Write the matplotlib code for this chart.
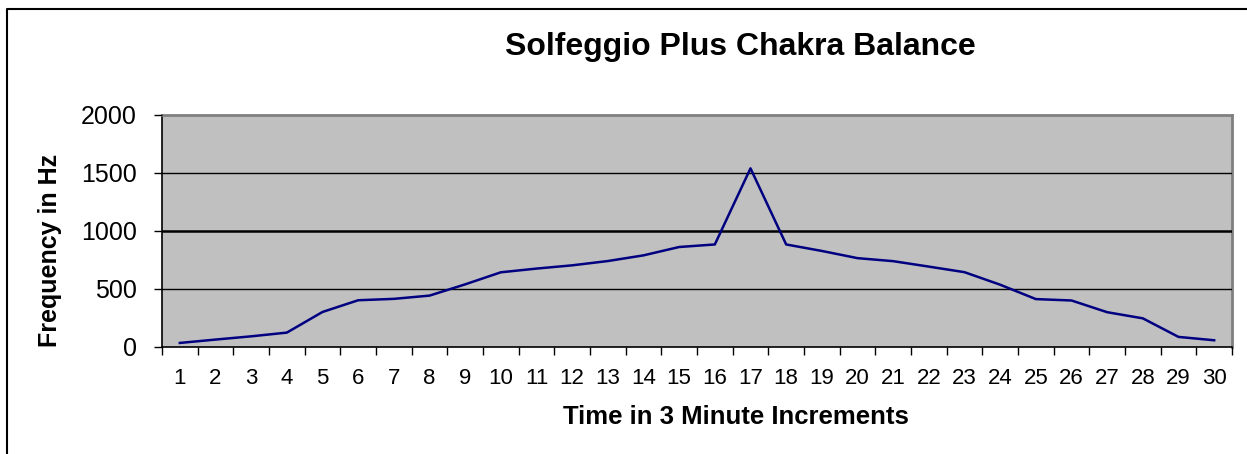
import matplotlib
matplotlib.use("Agg")
import matplotlib.pyplot as plt
from matplotlib.lines import Line2D

# Dati
intervalli = list(range(1, 31))
frequenze = [35, 64, 92, 124, 302, 403, 415, 443, 540, 644,
             676, 704, 741, 790, 862, 884, 1540, 884, 828, 766,
             740, 693, 645, 537, 413, 401, 300, 247, 87, 58]
y_ticks = [0, 500, 1000, 1500, 2000]

titolo = "Solfeggio Plus Chakra Balance"
etichetta_x = "Time in 3 Minute Increments"
etichetta_y = "Frequency in Hz"

plt.rcParams['font.family'] = ['Liberation Sans', 'DejaVu Sans']

W, H = 1247, 454
fig = plt.figure(figsize=(W / 100, H / 100), dpi=100)
fig.patch.set_facecolor('white')

ax = fig.add_axes([162 / W, 1 - 347 / H, (1232 - 162) / W, (347 - 115) / H])
ax.set_facecolor('#C0C0C0')

ax.plot(intervalli, frequenze, color='#000080', linewidth=1.8, zorder=3)

ax.set_xlim(0.5, 30.5)
ax.set_ylim(0, 2000)

# griglia orizzontale nera
ax.set_yticks(y_ticks)
ax.set_yticklabels([str(v) for v in y_ticks], fontsize=18)
ax.yaxis.grid(True, color='black', linewidth=1.0)
ax.set_axisbelow(False)
for i, gl in enumerate(ax.get_ygridlines()):
    if y_ticks[i] == 1000:
        gl.set_linewidth(1.8)
    if y_ticks[i] in (0, 2000):
        gl.set_visible(False)
ax.tick_params(axis='y', direction='out', length=6, width=1, pad=12, colors='black')

# tacche tra le categorie, etichette al centro
ax.set_xticks([i + 0.5 for i in range(0, 31)])
ax.set_xticklabels([])
ax.set_xticks(intervalli, minor=True)
ax.set_xticklabels([str(i) for i in intervalli], minor=True, fontsize=16)
ax.tick_params(axis='x', which='major', direction='out', length=6, width=1)
ax.tick_params(axis='x', which='minor', length=0, pad=15)

for lato in ['left', 'bottom']:
    ax.spines[lato].set_color('black')
    ax.spines[lato].set_linewidth(1.2)
for lato in ['top', 'right']:
    ax.spines[lato].set_color('#808080')
    ax.spines[lato].set_linewidth(2)

fig.text(740 / W, 1 - 47 / H, titolo, fontsize=23, fontweight='bold',
         ha='center', va='center')
fig.text(736 / W, 1 - 417 / H, etichetta_x, fontsize=18.5, fontweight='bold',
         ha='center', va='center')
fig.text(50 / W, 1 - 250 / H, etichetta_y, fontsize=18, fontweight='bold',
         ha='center', va='center', rotation=90)

# bordo del grafico (solo lato sinistro e superiore visibili)
fig.add_artist(Line2D([7 / W, 7 / W, 1.0], [0.0, 1 - 9 / H, 1 - 9 / H],
                      transform=fig.transFigure, color='black', linewidth=1.5))

fig.savefig('out.png', dpi=100)
